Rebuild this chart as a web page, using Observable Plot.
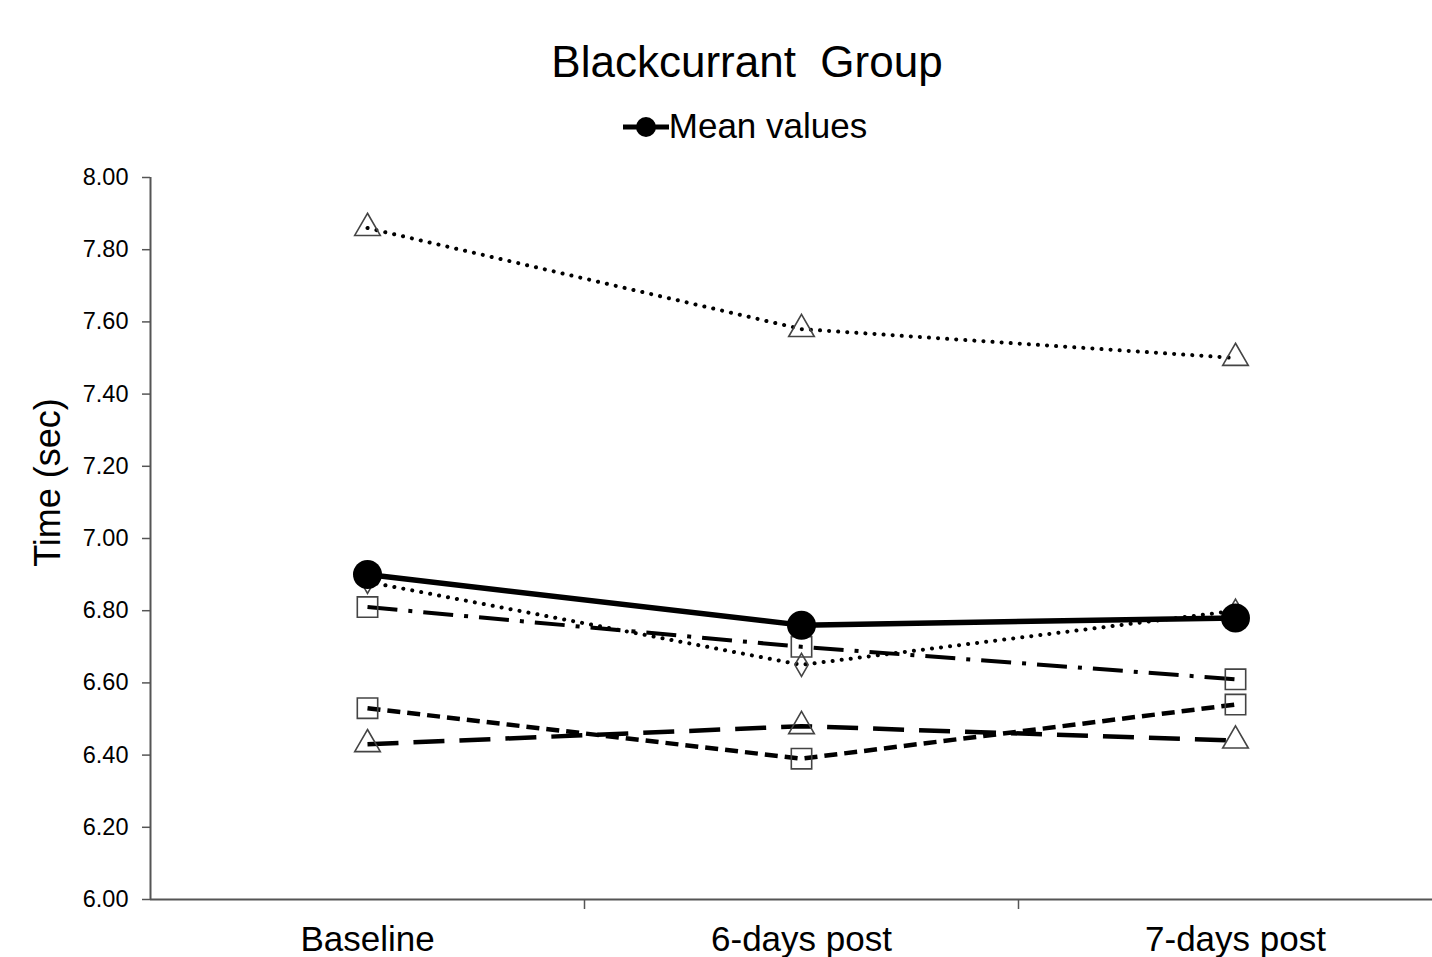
<!DOCTYPE html>
<html>
<head>
<meta charset="utf-8">
<script src="https://cdn.jsdelivr.net/npm/d3@7"></script>
<script src="https://cdn.jsdelivr.net/npm/@observablehq/plot@0.6"></script>
<style>
  html, body { margin: 0; padding: 0; background: #fff; }
  body { width: 1432px; height: 957px; overflow: hidden; font-family: "Liberation Sans", Arial, sans-serif; }
  #title { position: absolute; left: 0; top: 0; width: 1494px; text-align: center; font-size: 44px; line-height: 44px; padding-top: 40px; white-space: pre; color: #000; }
  #legend { position: absolute; left: 0; top: 106px; width: 1490px; text-align: center; font-size: 35px; line-height: 40px; color: #000; }
  #legend svg { vertical-align: -2px; }
  #chart { position: absolute; left: 0; top: 150px; }
</style>
</head>
<body>
<div id="title">Blackcurrant  Group</div>
<div id="legend"><svg width="46" height="26"><line x1="0" y1="13" x2="46" y2="13" stroke="#000" stroke-width="5"/><circle cx="23" cy="13" r="10" fill="#000"/></svg>Mean values</div>
<div id="chart"></div>
<script>
const categories = ["Baseline", "6-days post", "7-days post"];
const meanValues = [6.90, 6.76, 6.78];
const subjectA = [7.86, 7.58, 7.50]; // dotted, triangles
const subjectB = [6.88, 6.65, 6.80]; // dotted, diamonds
const subjectC = [6.81, 6.70, 6.61]; // dash-dot, squares
const subjectD = [6.53, 6.39, 6.54]; // short dash, squares
const subjectE = [6.43, 6.48, 6.44]; // long dash, triangles
const yTicks = [6.00, 6.20, 6.40, 6.60, 6.80, 7.00, 7.20, 7.40, 7.60, 7.80, 8.00];

const rows = arr => arr.map((v, i) => ({i, v}));

const series = [
  {data: rows(subjectA), dash: "0.1 9", width: 4, cap: "round", symbol: "triangle", r: 9.5},
  {data: rows(subjectB), dash: "0.1 9", width: 4, cap: "round", symbol: "diamond", r: 7},
  {data: rows(subjectC), dash: "30 11 4 11", width: 4, cap: "butt", symbol: "square", r: 11.5},
  {data: rows(subjectD), dash: "13 7", width: 4.5, cap: "butt", symbol: "square", r: 11.5},
  {data: rows(subjectE), dash: "31 15", width: 4.5, cap: "butt", symbol: "triangle", r: 9.5}
];

const marks = [
  Plot.ruleY([6], {stroke: "#555", strokeWidth: 2}),
  Plot.ruleX([-0.5], {stroke: "#555", strokeWidth: 2}),
  Plot.axisY({ticks: yTicks, tickFormat: d => d.toFixed(2), tickSize: 8, tickPadding: 14, fontSize: 23.5, label: null, stroke: "#555", strokeWidth: 1.5, fill: "#000"}),
  Plot.axisX({ticks: [0.5, 1.5], tickFormat: () => "", tickSize: 10, label: null, stroke: "#555", strokeWidth: 1.5}),
  Plot.axisX({ticks: [0, 1, 2], tickFormat: i => categories[i], tickSize: 0, tickPadding: 27, fontSize: 35, label: null, fill: "#000"}),
  Plot.text(["Time (sec)"], {frameAnchor: "left", textAnchor: "middle", dx: -102, dy: -56, rotate: -90, fontSize: 36, fill: "#000"})
];

for (const s of series) {
  marks.push(Plot.line(s.data, {x: "i", y: "v", stroke: "#000", strokeWidth: s.width, strokeDasharray: s.dash, strokeLinecap: s.cap}));
}
for (const s of series) {
  marks.push(Plot.dot(s.data, {x: "i", y: "v", symbol: s.symbol, r: s.r, fill: "none", stroke: "#444", strokeWidth: 1.6}));
}
marks.push(Plot.line(rows(meanValues), {x: "i", y: "v", stroke: "#000", strokeWidth: 5.5}));
marks.push(Plot.dot(rows(meanValues), {x: "i", y: "v", r: 14.5, fill: "#000", symbol: "circle"}));

const chart = Plot.plot({
  width: 1432,
  height: 807,
  marginTop: 27,
  marginBottom: 58,
  marginLeft: 150,
  marginRight: 0,
  style: {fontFamily: "'Liberation Sans', Arial, sans-serif", background: "#fff", color: "#000"},
  x: {type: "linear", domain: [-0.5, 2.5], range: [150, 1452]},
  y: {domain: [6, 8]},
  marks
});
document.getElementById("chart").appendChild(chart);
</script>
</body>
</html>
